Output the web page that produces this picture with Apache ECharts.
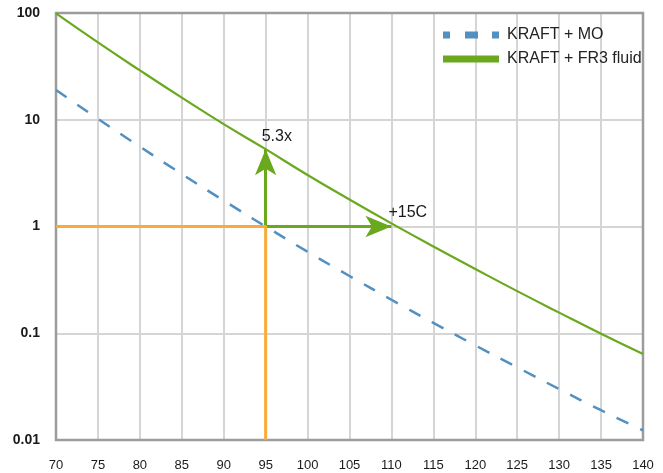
<!DOCTYPE html>
<html>
<head>
<meta charset="utf-8">
<script src="https://cdn.jsdelivr.net/npm/echarts@6/dist/echarts.min.js"></script>
<style>
  html, body { margin: 0; padding: 0; background: #fff; }
  #main { width: 663px; height: 473px; }
</style>
</head>
<body>
<div id="main"></div>
<script>
// hot spot temperature (C)
var temps = [70, 75, 80, 85, 90, 95, 100, 105, 110, 115, 120, 125, 130, 135, 140];
// relative aging life
var fr3Life = [99, 53, 29, 16.1, 9.1, 5.3, 3.04, 1.79, 1.07, 0.65, 0.40, 0.248, 0.156, 0.099, 0.064];
var moLife = [19, 10.2, 5.6, 3.1, 1.75, 1.0, 0.58, 0.344, 0.206, 0.125, 0.077, 0.048, 0.030, 0.019, 0.0123];
var yTicks = [0.01, 0.1, 1, 10, 100];
// annotation points
var refTemp = 95;
var upTemp = 110;
var gain = 5.3;

var font = 'Helvetica, Arial, "Liberation Sans", sans-serif';
var green = "#6aa81e";
var blue = "#5190c0";
var orange = "#f9ab37";

function pairs(ys) {
    var out = [];
    for (var i = 0; i < temps.length; i++) {
        out.push([temps[i], ys[i]]);
    }
    return out;
}

var chartDom = document.getElementById("main");
var myChart = echarts.init(chartDom);
var option;

var arrowEnd = { symbol: "arrow", symbolSize: [16, 26] };

option = {
    animation: false,
    textStyle: { fontFamily: font },
    grid: {
        left: 56,
        right: 20,
        top: 13,
        bottom: 33,
        show: true,
        borderColor: "#9c9c9c",
        borderWidth: 2.5,
        z: 3,
    },
    legend: {
        orient: "vertical",
        left: 438,
        top: 22,
        itemGap: 8,
        itemWidth: 56,
        itemHeight: 7,
        textStyle: { fontSize: 16, color: "#222", fontFamily: font, padding: [0, 0, 0, 3] },
        data: [
            {
                name: "KRAFT + MO",
                icon: "path://M0,0h7v7h-7zM22,0h13v7h-13zM49,0h7v7h-7z",
                itemStyle: { color: blue },
            },
            {
                name: "KRAFT + FR3 fluid",
                icon: "rect",
                itemStyle: { color: green },
            },
        ],
    },
    xAxis: {
        type: "value",
        min: temps[0],
        max: temps[temps.length - 1],
        interval: 5,
        axisLine: { show: false },
        axisTick: { show: false },
        axisLabel: { color: "#1a1a1a", fontSize: 13, margin: 19, fontFamily: font },
        splitLine: {
            show: true,
            showMinLine: false,
            showMaxLine: false,
            lineStyle: { color: "#d5d5d5", width: 2 },
        },
    },
    yAxis: {
        type: "log",
        logBase: 10,
        min: yTicks[0],
        max: yTicks[yTicks.length - 1],
        axisLine: { show: false },
        axisTick: { show: false },
        axisLabel: {
            color: "#1a1a1a",
            fontSize: 14,
            fontWeight: "bold",
            margin: 16,
            fontFamily: font,
            formatter: function (v) {
                return String(+v.toPrecision(3));
            },
        },
        splitLine: {
            show: true,
            showMinLine: false,
            showMaxLine: false,
            lineStyle: { color: "#d5d5d5", width: 2 },
        },
    },
    series: [
        {
            name: "KRAFT + MO",
            type: "line",
            data: pairs(moLife),
            symbol: "none",
            smooth: true,
            color: blue,
            lineStyle: { color: blue, width: 2.5, type: [13, 13] },
            z: 4,
        },
        {
            name: "KRAFT + FR3 fluid",
            type: "line",
            data: pairs(fr3Life),
            symbol: "none",
            smooth: true,
            color: green,
            lineStyle: { color: green, width: 2.2 },
            z: 4,
        },
        {
            name: "ref",
            type: "line",
            data: [[temps[0], 1], [refTemp, 1], [refTemp, yTicks[0]]],
            symbol: "none",
            lineStyle: { color: orange, width: 3 },
            z: 5,
            markLine: {
                silent: true,
                symbol: ["none", "arrow"],
                symbolSize: 20,
                label: { show: false },
                lineStyle: { color: green, width: 3, type: "solid" },
                data: [
                    [{ coord: [refTemp, 1] }, Object.assign({ coord: [refTemp, gain] }, arrowEnd)],
                    [{ coord: [refTemp, 1] }, Object.assign({ coord: [upTemp, 1] }, arrowEnd)],
                ],
            },
            markPoint: {
                silent: true,
                symbol: "circle",
                symbolSize: 0,
                label: {
                    show: true,
                    color: "#1a1a1a",
                    fontSize: 16,
                    fontFamily: font,
                    align: "left",
                    verticalAlign: "top",
                    formatter: function (p) {
                        return p.name;
                    },
                },
                data: [
                    { name: gain + "x", coord: [refTemp, gain], label: { position: [-4, -21] } },
                    { name: "+" + (upTemp - refTemp) + "C", coord: [upTemp, 1], label: { position: [-3, -22] } },
                ],
            },
        },
    ],
};

option && myChart.setOption(option);
</script>
</body>
</html>
